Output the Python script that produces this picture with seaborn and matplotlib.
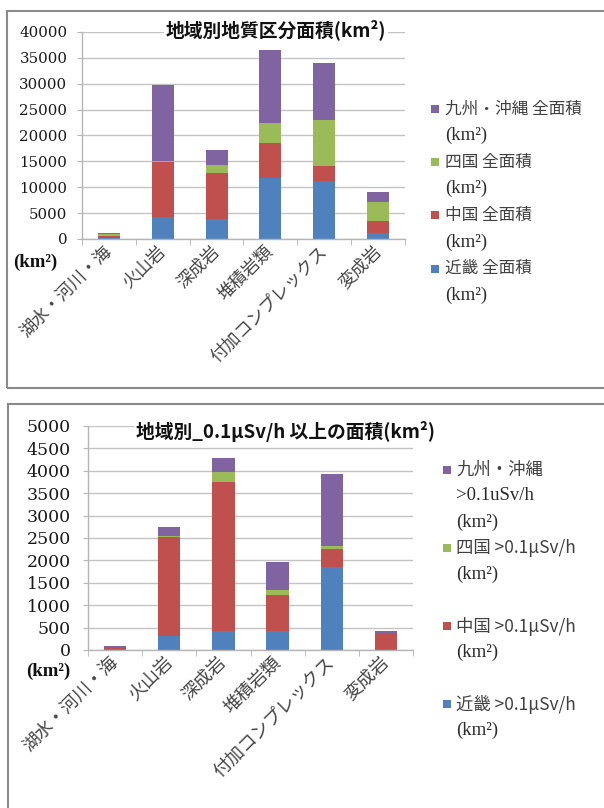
import numpy as np
import pandas as pd
import matplotlib
matplotlib.use('Agg')
import matplotlib.pyplot as plt
import seaborn as sns
from matplotlib.patches import Rectangle
from matplotlib.ticker import FixedLocator, MultipleLocator

# ---------------- data ----------------
categories = ['湖水・河川・海', '火山岩', '深成岩', '堆積岩類', '付加コンプレックス', '変成岩']

area_kinki = [250, 4200, 3900, 11700, 11300, 1200]
area_chugoku = [350, 10600, 8900, 6900, 2800, 2200]
area_shikoku = [300, 300, 1500, 3800, 8900, 3800]
area_kyushu = [300, 14700, 2900, 14100, 11000, 1800]

dose_kinki = [0, 320, 430, 430, 1860, 10]
dose_chugoku = [70, 2210, 3330, 800, 390, 360]
dose_shikoku = [0, 10, 220, 110, 70, 10]
dose_kyushu = [15, 210, 310, 620, 1600, 50]

colors = ['#4F81BD', '#C0504D', '#9BBB59', '#8064A2']

top_title = '地域別地質区分面積(km²)'
bottom_title = '地域別_0.1μSv/h 以上の面積(km²)'
top_legend = [['九州・沖縄 全面積', '(km²)'], ['四国 全面積', '(km²)'],
              ['中国 全面積', '(km²)'], ['近畿 全面積', '(km²)']]
bottom_legend = [['九州・沖縄', '>0.1uSv/h', '(km²)'], ['四国 >0.1μSv/h', '(km²)', ''],
                 ['中国 >0.1μSv/h', '(km²)', ''], ['近畿 >0.1μSv/h', '(km²)']]
unit_label = '(km²)'

W, H = 604, 808
fig = plt.figure(figsize=(W / 100, H / 100), dpi=100)
fig.patch.set_facecolor('white')

CJK = ['Noto Sans CJK JP', 'DejaVu Sans']
SERIF_CJK = ['Liberation Serif', 'Noto Sans CJK JP']


def fx(px):
    return px / W


def fy(py):
    return 1 - py / H


def axes_px(l, t, r, b):
    return fig.add_axes([fx(l), fy(b), (r - l) / W, (b - t) / H])


def stacked(ax, series, ymax, ystep, tick_fs, xtick_fs, tickpad):
    cum = np.cumsum(np.array(series, dtype=float), axis=0)
    for lvl in range(len(series) - 1, -1, -1):
        df = pd.DataFrame({'category': categories, 'value': cum[lvl]})
        sns.barplot(data=df, x='category', y='value', order=categories,
                    color=colors[lvl], saturation=1, width=0.41,
                    errorbar=None, linewidth=0, ax=ax)
    ax.set_xlim(-0.5, len(categories) - 0.5)
    ax.set_ylim(0, ymax)
    ax.yaxis.set_major_locator(MultipleLocator(ystep))
    ax.set_xlabel('')
    ax.set_ylabel('')
    ax.set_axisbelow(True)
    ax.yaxis.grid(True, color='#C3C3C3', lw=1.0)
    ax.xaxis.grid(False)
    for s in ['top', 'right']:
        ax.spines[s].set_visible(False)
    for s in ['left', 'bottom']:
        ax.spines[s].set_color('#B5B5B5')
        ax.spines[s].set_linewidth(1.0)
    ax.xaxis.set_minor_locator(FixedLocator(np.arange(-0.5, len(categories), 1.0)))
    ax.tick_params(axis='x', which='major', length=0, pad=7)
    ax.tick_params(axis='x', which='minor', length=4, color='#B5B5B5', direction='out')
    ax.tick_params(axis='y', length=3.5, color='#B5B5B5', pad=tickpad,
                   labelsize=tick_fs, labelcolor='#1a1a1a',
                   labelfontfamily='DejaVu Serif')
    ax.set_xticks(range(len(categories)))
    ax.set_xticklabels(categories, rotation=45, ha='right', va='center',
                       rotation_mode='anchor', fontsize=xtick_fs,
                       family=CJK, color='#454545')
    ax.set_facecolor('white')


def legend_block(entries, sq_x, txt_x, y0, dy, fs, fs_serif):
    y = y0
    for i, lines in enumerate(entries):
        col = colors[len(colors) - 1 - i]
        fig.patches.append(Rectangle((fx(sq_x), fy(y + 4)), 8 / W, 8 / H,
                                     transform=fig.transFigure, figure=fig,
                                     facecolor=col, edgecolor='none'))
        for j, line in enumerate(lines):
            if line:
                serif = line.startswith('(') or line.startswith('>')
                fig.text(fx(txt_x), fy(y + j * dy), line,
                         fontsize=fs_serif if serif else fs,
                         family=SERIF_CJK if serif else CJK,
                         color='#2a2a2a' if serif else '#404040',
                         ha='left', va='center')
        y += len(lines) * dy


# ---------------- top chart ----------------
ax1 = axes_px(82, 32, 405, 239)
stacked(ax1, [area_kinki, area_chugoku, area_shikoku, area_kyushu],
        40000, 5000, 10.8, 12.5, 7)
fig.text(fx(276), fy(30), top_title, fontsize=13.5, fontweight='bold',
         family=CJK, ha='center', va='center', color='#111111',
         bbox=dict(facecolor='white', edgecolor='none', pad=1.5))
fig.text(fx(35), fy(262), unit_label, fontsize=13.5, fontweight='bold',
         family='Liberation Serif', ha='center', va='center', color='#111111')
legend_block(top_legend, 431, 445, 109, 26.6, 12, 13.5)

# ---------------- bottom chart ----------------
ax2 = axes_px(88, 426, 413, 650)
stacked(ax2, [dose_kinki, dose_chugoku, dose_shikoku, dose_kyushu],
        5000, 500, 12.5, 13, 9)
fig.text(fx(286), fy(431), bottom_title, fontsize=13.5, fontweight='bold',
         family=CJK, ha='center', va='center', color='#111111',
         bbox=dict(facecolor='white', edgecolor='none', pad=1.5))
fig.text(fx(48), fy(671), unit_label, fontsize=13.5, fontweight='bold',
         family='Liberation Serif', ha='center', va='center', color='#111111')
legend_block(bottom_legend, 443, 456, 470, 26, 12.5, 13.5)

# panel frames
fig.patches.append(Rectangle((fx(7), fy(388)), (620 - 7) / W, (388 - 11) / H,
                             transform=fig.transFigure, figure=fig, fill=False,
                             edgecolor='#8a8a8a', lw=1.5))
fig.patches.append(Rectangle((fx(8), fy(830)), (620 - 8) / W, (830 - 404) / H,
                             transform=fig.transFigure, figure=fig, fill=False,
                             edgecolor='#8a8a8a', lw=1.5))

fig.savefig('out.png', dpi=100, facecolor='white')
